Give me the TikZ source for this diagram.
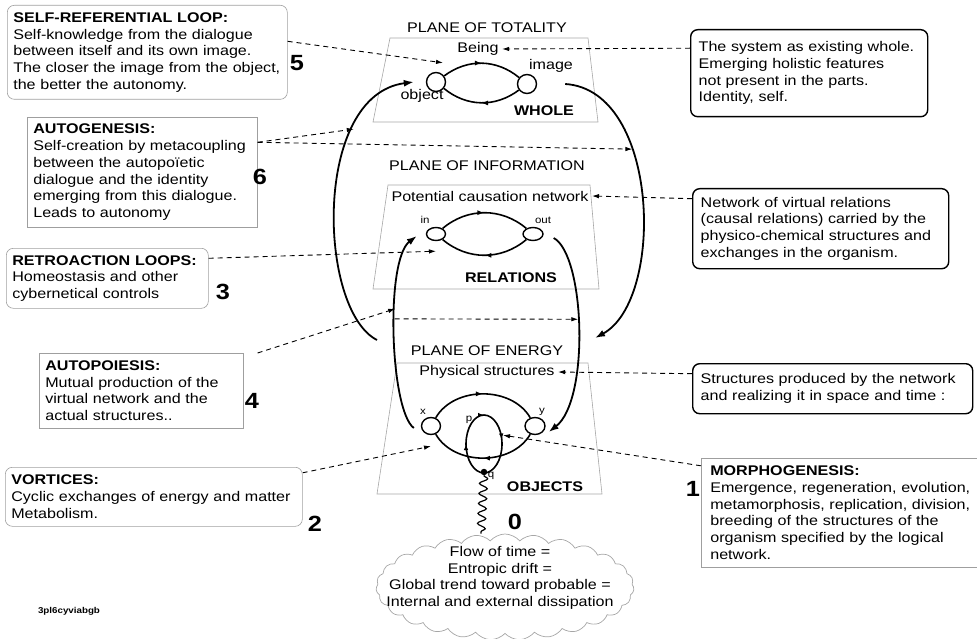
\documentclass[tikz,border=0pt]{standalone}
\usepackage{fontspec}
\setmainfont{Liberation Sans}[FakeStretch=1.15]
\usetikzlibrary{calc,arrows.meta,shapes.geometric,shapes.symbols,decorations.pathmorphing,decorations.markings}

\tikzset{
  lbox/.style={draw=gray!75,line width=0.6pt,anchor=north west,align=left,
    inner xsep=6pt,inner ysep=3pt,font=\fontsize{14}{16.7}\selectfont},
  rlbox/.style={lbox,rounded corners=7pt},
  rbox/.style={lbox,draw=black,line width=1.4pt,rounded corners=7pt,inner xsep=8pt},
  num/.style={font=\fontsize{22}{22}\selectfont\bfseries},
  lbl/.style={font=\fontsize{14}{16.7}\selectfont},
  lblb/.style={font=\fontsize{14}{16.7}\selectfont\bfseries},
  small/.style={font=\fontsize{10}{10}\selectfont},
  plane/.style={draw=gray!70,line width=0.6pt},
  dot/.style={ellipse,draw,line width=1.4pt,fill=white,minimum width=19pt,minimum height=19pt,inner sep=0pt},
  big/.style={line width=1.8pt,-{Latex[length=10pt,width=7pt]}},
  loopline/.style={line width=1.6pt,postaction={decorate},
    decoration={markings,mark=at position 0.5 with {\arrow{Latex[length=7pt,width=5pt]}}}},
  ploop/.style={line width=1.6pt,postaction={decorate},
    decoration={markings,mark=at position 0.5 with {\arrow{Latex[length=6pt,width=4.5pt]}},
      mark=at position 0.75 with {\arrow{Latex[length=6pt,width=4.5pt]}},
      mark=at position 0.97 with {\arrow{Latex[length=6pt,width=4.5pt]}}}},
  dsh/.style={line width=0.9pt,dash pattern=on 5pt off 4pt,-{Latex[length=7pt,width=4.5pt]}}
}

\begin{document}
\begin{tikzpicture}[x=1pt,y=-1pt]
\useasboundingbox (0,0) rectangle (977,639);

    \foreach \yt/\yb/\tl/\tr/\bl/\br in {38/122/390/588/373/598,185/289/388/590/373/599,363/494/397/588/377/602}
             {
               \draw[plane] (\tl,\yt) -- (\tr,\yt) -- (\br,\yb) -- (\bl,\yb) -- cycle;
             }

          \node[lbl] (ptot) at (487,28) {PLANE OF TOTALITY};
          \node[lbl] (pinf) at (487,166) {PLANE OF INFORMATION};
          \node[lbl] (pen) at (487,351) {PLANE OF ENERGY};
          \node[lbl] (being) at (478,49) {Being};
          \node[lbl] (potnet) at (490,196) {Potential causation network};
          \node[lbl] (physstr) at (487,372) {Physical structures};
          \node[lblb] (whl) at (544,111) {WHOLE};
          \node[lblb] (rel) at (511,278) {RELATIONS};
          \node[lblb] (objs) at (545,487) {OBJECTS};

          \node[dot] (obj) at (436,82) {};
          \node[dot] (img) at (527,84) {};
          \node[dot,minimum height=13pt] (inp) at (436,234) {};
          \node[dot,minimum height=13pt,minimum width=20pt] (outp) at (533,234) {};
          \node[dot,minimum height=17pt] (cx) at (431,426) {};
          \node[dot,minimum height=17pt,minimum width=20pt] (cy) at (535,426) {};

          \node[lbl] (lobj) at (422,96) {object};
          \node[lbl] (limg) at (551,66) {image};
          \node[small] (lin) at (425,220) {in};
          \node[small] (lout) at (543,220) {out};
          \node[small] (lx) at (423,412) {x};
          \node[small] (ly) at (542,412) {y};
          \node[small] (lp) at (469,420) {p};
          \node[small] (lq) at (491,476) {q};

             \draw[loopline] (obj) to[bend left=38] (img);
             \draw[loopline] (img) to[bend left=38] (obj);
             \draw[loopline] (inp) to[bend left=40] (outp);
             \draw[loopline] (outp) to[bend left=40] (inp);
             \draw[loopline] (cx) to[bend left=60] (cy);
             \draw[loopline] (cy) to[bend left=60] (cx);

          \coordinate (pq) at (484,444);
             \draw[ploop] (pq) ellipse [x radius=18, y radius=29];
          \node[circle,fill,inner sep=2.3pt] (qdot) at (484,472) {};

          \node[cloud,cloud ignores aspect,draw=gray!70,line width=0.7pt,cloud puffs=27,cloud puff arc=100,
                minimum width=258pt,minimum height=106pt] (cloud) at (505,587) {};
          \node[lbl,align=center] (flow) at (500,578)
                {Flow of time =\\Entropic drift =\\Global trend toward probable =\\Internal and external dissipation};
             \draw[line width=1.2pt,decorate,decoration={snake,amplitude=4pt,segment length=10pt}]
                (qdot) -- ([xshift=-24pt]cloud.north);

          \node[rlbox,text width=268pt,minimum height=94pt] (selfref) at (7,5)
                {\textbf{SELF-REFERENTIAL LOOP:}\\Self-knowledge from the dialogue\\between itself and its own image.\\The closer the image from the object,\\the better the autonomy.};
          \node[lbox,text width=218pt,minimum height=110pt] (autogen) at (27,117)
                {\textbf{AUTOGENESIS:}\\Self-creation by metacoupling\\between the autopoïetic\\dialogue and the identity\\emerging from this dialogue.\\Leads to autonomy};
          \node[rlbox,text width=190pt,minimum height=60pt] (retro) at (6,248)
                {\textbf{RETROACTION LOOPS:}\\Homeostasis and other\\cybernetical controls};
          \node[lbox,text width=192pt,minimum height=75pt] (autopoi) at (39,353)
                {\textbf{AUTOPOIESIS:}\\Mutual production of the\\virtual network and the\\actual structures..};
          \node[rlbox,text width=285pt,minimum height=59pt] (vortic) at (5,467)
                {\textbf{VORTICES:}\\Cyclic exchanges of energy and matter\\Metabolism.};
          \node[rbox,text width=221pt,minimum height=87pt] (whole) at (690,29)
                {The system as existing whole.\\Emerging holistic features\\not present in the parts.\\Identity, self.};
          \node[rbox,text width=240pt,minimum height=80pt] (network) at (692,188)
                {Network of virtual relations\\(causal relations) carried by the\\physico-chemical structures and\\exchanges in the organism.};
          \node[rbox,text width=264pt,minimum height=50pt] (struct) at (692,363)
                {Structures produced by the network\\and realizing it in space and time :};
          \node[lbox,text width=278pt,minimum height=109pt,inner xsep=9pt] (morpho) at (701,458)
                {\textbf{MORPHOGENESIS:}\\Emergence, regeneration, evolution,\\metamorphosis, replication, division,\\breeding of the structures of the\\organism specified by the logical\\network.};

    \foreach \n/\xx/\yy in {5/297/63,6/260/177,3/223/292,4/252/401,2/315/524,1/693/489,0/515/522}
             {
               \node[num] (num\n) at (\xx,\yy) {\n};
             }
          \node[font=\fontsize{8.5}{9}\selectfont\bfseries] (code) at (69,611) {3pl6cyviabgb};

          \coordinate (c1s) at (377,340);
             \draw[big] (c1s) .. controls (318,310) and (312,95) .. ([xshift=-12pt]obj.west)
                coordinate[pos=0.73] (c1a);
          \coordinate (c2e) at (595,338);
             \draw[big] ([xshift=28pt]img.east) .. controls (660,90) and (665,300) .. (c2e)
                coordinate[pos=0.35] (c2a);
             \draw[big] ([shift={(-7pt,-2pt)}]cx.west) .. controls (390,410) and (385,260) .. ([shift={(-9pt,-2pt)}]inp.west)
                coordinate[pos=0.6] (c3a) coordinate[pos=0.56] (c3b);
             \draw[big] ([shift={(10pt,-4pt)}]outp.east) .. controls (585,255) and (590,400) .. ([shift={(3pt,-6pt)}]cy.east)
                coordinate[pos=0.46] (c4a);

             \draw[dsh] ([yshift=11pt]selfref.east) -- ([shift={(7pt,9pt)}]obj.north);
             \draw[dsh] ([yshift=25pt]whole.west) -- (being.east);
             \draw[dsh] ([yshift=30pt]autogen.east) -- (c1a);
             \draw[dsh] ([yshift=30pt]autogen.east) -- (c2a);
             \draw[dsh] ([yshift=30pt]network.west) -- (potnet.east);
             \draw[dsh] ([yshift=20pt]retro.east) -- ([yshift=-10pt]inp.south);
             \draw[dsh] ([xshift=14pt]autopoi.north east) -- (c3a);
             \draw[dsh] (c3b) -- (c4a);
             \draw[dsh] ([yshift=15pt]struct.west) -- (physstr.east);
             \draw[dsh] ([yshift=24pt]vortic.east) -- ([yshift=-11pt]cx.south);
             \draw[dsh] ([yshift=47pt]morpho.west) -- ([xshift=-32pt]cy.south);

\end{tikzpicture}
\end{document}
